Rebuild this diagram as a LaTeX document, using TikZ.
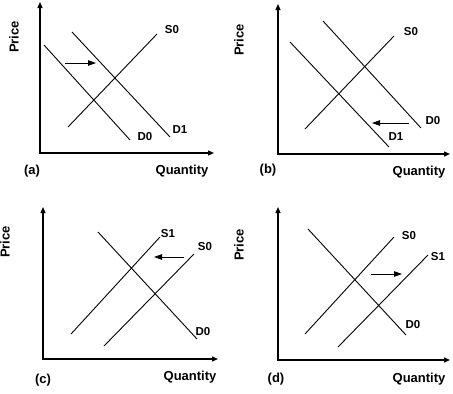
\documentclass[tikz,border=0pt]{standalone}
\usepackage{fontspec}
\setmainfont{Liberation Sans}
\usetikzlibrary{arrows.meta}

\begin{document}
\begin{tikzpicture}[x=1pt,y=-1pt,
    axis/.style={line width=1.3pt,{Triangle[length=6pt,width=5pt]}-{Triangle[length=6pt,width=5pt]}},
    curve/.style={line width=0.9pt},
    shiftarrow/.style={line width=0.9pt,-{Triangle[length=8pt,width=5.5pt]}},
    lbl/.style={font=\bfseries\fontsize{11.5}{13}\selectfont,inner sep=0pt},
    axlbl/.style={font=\bfseries\fontsize{13}{15}\selectfont,inner sep=0pt}]
    \useasboundingbox (0,0) rectangle (453,394);

    % (a) demand shifts right
    \coordinate (ay) at (40,2);   \coordinate (ao) at (40,153);  \coordinate (ax) at (214,153);
    \draw[axis] (ay) -- (ao) -- (ax);
    \node[axlbl,rotate=90] (aprice) at (14,37) {Price};
    \node[axlbl] (aqty) at (182,171) {Quantity};
    \node[axlbl] (atag) at (32,171) {(a)};
    \coordinate (as0a) at (68,127);  \coordinate (as0b) at (157,34);
    \coordinate (ad0a) at (44,45);   \coordinate (ad0b) at (130,140);
    \coordinate (ad1a) at (72,32);   \coordinate (ad1b) at (170,137);
    \draw[curve] (as0a) -- (as0b);
    \draw[curve] (ad0a) -- (ad0b);
    \draw[curve] (ad1a) -- (ad1b);
    \node[lbl] (as0) at (172,30) {S0};
    \node[lbl] (ad0) at (145,137) {D0};
    \node[lbl] (ad1) at (180,130) {D1};
    \coordinate (aarra) at (65,63);  \coordinate (aarrb) at (96,63);
    \draw[shiftarrow] (aarra) -- (aarrb);

    % (b) demand shifts left
    \coordinate (by) at (278,4);  \coordinate (bo) at (278,154); \coordinate (bx) at (450,154);
    \draw[axis] (by) -- (bo) -- (bx);
    \node[axlbl,rotate=90] (bprice) at (239,40) {Price};
    \node[axlbl] (bqty) at (419,172) {Quantity};
    \node[axlbl] (btag) at (268,170) {(b)};
    \coordinate (bs0a) at (305,129); \coordinate (bs0b) at (394,36);
    \coordinate (bd1a) at (290,42);  \coordinate (bd1b) at (389,147);
    \coordinate (bd0a) at (323,21);  \coordinate (bd0b) at (421,128);
    \draw[curve] (bs0a) -- (bs0b);
    \draw[curve] (bd1a) -- (bd1b);
    \draw[curve] (bd0a) -- (bd0b);
    \node[lbl] (bs0) at (411,32) {S0};
    \node[lbl] (bd0) at (433,121) {D0};
    \node[lbl] (bd1) at (396,137) {D1};
    \coordinate (barra) at (409,123); \coordinate (barrb) at (372,123);
    \draw[shiftarrow] (barra) -- (barrb);

    % (c) supply shifts left
    \coordinate (cy) at (43,207); \coordinate (co) at (43,359);  \coordinate (cx) at (218,359);
    \draw[axis] (cy) -- (co) -- (cx);
    \node[axlbl,rotate=90] (cprice) at (5,242) {Price};
    \node[axlbl] (cqty) at (190,377) {Quantity};
    \node[axlbl] (ctag) at (43,380) {(c)};
    \coordinate (cs1a) at (71,334);  \coordinate (cs1b) at (160,237);
    \coordinate (cs0a) at (104,346); \coordinate (cs0b) at (194,254);
    \coordinate (cd0a) at (98,232);  \coordinate (cd0b) at (197,339);
    \draw[curve] (cs1a) -- (cs1b);
    \draw[curve] (cs0a) -- (cs0b);
    \draw[curve] (cd0a) -- (cd0b);
    \node[lbl] (cs1) at (168,234) {S1};
    \node[lbl] (cs0) at (205,247) {S0};
    \node[lbl] (cd0) at (203,332) {D0};
    \coordinate (carra) at (184,257); \coordinate (carrb) at (154,257);
    \draw[shiftarrow] (carra) -- (carrb);

    % (d) supply shifts right
    \coordinate (dy) at (278,207); \coordinate (do) at (278,360); \coordinate (dx) at (450,360);
    \draw[axis] (dy) -- (do) -- (dx);
    \node[axlbl,rotate=90] (dprice) at (239,245) {Price};
    \node[axlbl] (dqty) at (419,379) {Quantity};
    \node[axlbl] (dtag) at (276,379) {(d)};
    \coordinate (ds0a) at (305,334); \coordinate (ds0b) at (394,237);
    \coordinate (ds1a) at (338,347); \coordinate (ds1b) at (428,255);
    \coordinate (dd0a) at (308,229); \coordinate (dd0b) at (406,335);
    \draw[curve] (ds0a) -- (ds0b);
    \draw[curve] (ds1a) -- (ds1b);
    \draw[curve] (dd0a) -- (dd0b);
    \node[lbl] (ds0) at (409,236) {S0};
    \node[lbl] (ds1) at (438,257) {S1};
    \node[lbl] (dd0) at (413,325) {D0};
    \coordinate (darra) at (371,274); \coordinate (darrb) at (402,274);
    \draw[shiftarrow] (darra) -- (darrb);
\end{tikzpicture}
\end{document}
